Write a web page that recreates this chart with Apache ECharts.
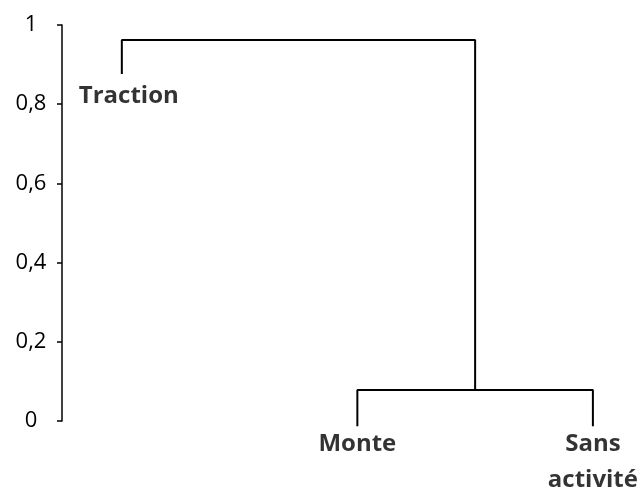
<!DOCTYPE html>
<html><head><meta charset="utf-8">
<script src="https://cdn.jsdelivr.net/npm/echarts@6/dist/echarts.min.js"></script>
<style>html,body{margin:0;padding:0;background:#fff}#c{width:641px;height:489px}</style>
</head><body><div id="c"></div>
<script>
// Dendrogram data
const leaves = ['Traction', 'Monte', 'Sans\nactivité'];
const leafOrder = [0, 1, 2];
const leafEnds = [0.876, -0.013, -0.013];
// merges: [left child, right child, height]  (children: 'L0','L1','L2','M0',...)
const merges = [['L1', 'L2', 0.078], ['L0', 'M0', 0.962]];
const yTicks = [0, 0.2, 0.4, 0.6, 0.8, 1];

const nodeX = {}, nodeY = {};
leaves.forEach((l, i) => { nodeX['L' + i] = leafOrder[i]; nodeY['L' + i] = leafEnds[i]; });
const segs = [];
merges.forEach((m, i) => {
  const [a, b, h] = m;
  segs.push([[nodeX[a], nodeY[a]], [nodeX[a], h], [nodeX[b], h], [nodeX[b], nodeY[b]]]);
  nodeX['M' + i] = (nodeX[a] + nodeX[b]) / 2;
  nodeY['M' + i] = h;
});

const chart = echarts.init(document.getElementById('c'));
const series = segs.map(s => ({
  type: 'line', data: s, symbol: 'none', clip: false, silent: true,
  lineStyle: { color: '#000', width: 2 }, animation: false
}));
const labelOffsets = [[7, 4], [0, 0], [0, 0]];
series.push({
  type: 'scatter', clip: false, symbolSize: 0, animation: false,
  data: leaves.map((l, i) => ({ value: [leafOrder[i], leafEnds[i]], name: l, label: { offset: labelOffsets[i] } })),
  label: {
    show: true, position: 'bottom', distance: 0, formatter: p => p.name,
    fontFamily: 'Open Sans', fontWeight: 'bold', fontSize: 24, lineHeight: 36,
    color: '#000', align: 'center'
  }
});
chart.setOption({
  backgroundColor: '#fff',
  grid: { left: 62, right: 1, top: 25, bottom: 68 },
  xAxis: { type: 'value', min: -0.254, max: 2.2, show: false },
  yAxis: {
    type: 'value', min: 0, max: 1, interval: 0.2,
    axisLine: { show: true, onZero: false, lineStyle: { color: '#000', width: 1.5 } },
    axisTick: { show: true, length: 5, lineStyle: { color: '#000', width: 1.5 } },
    splitLine: { show: false },
    axisLabel: {
      margin: 31, align: 'center', color: '#000', fontSize: 22, fontFamily: 'Open Sans',
      formatter: v => { const t = yTicks.find(x => Math.abs(x - v) < 1e-9); return String(+(t ?? v).toFixed(1)).replace('.', ','); }
    }
  },
  series
});
</script></body></html>
